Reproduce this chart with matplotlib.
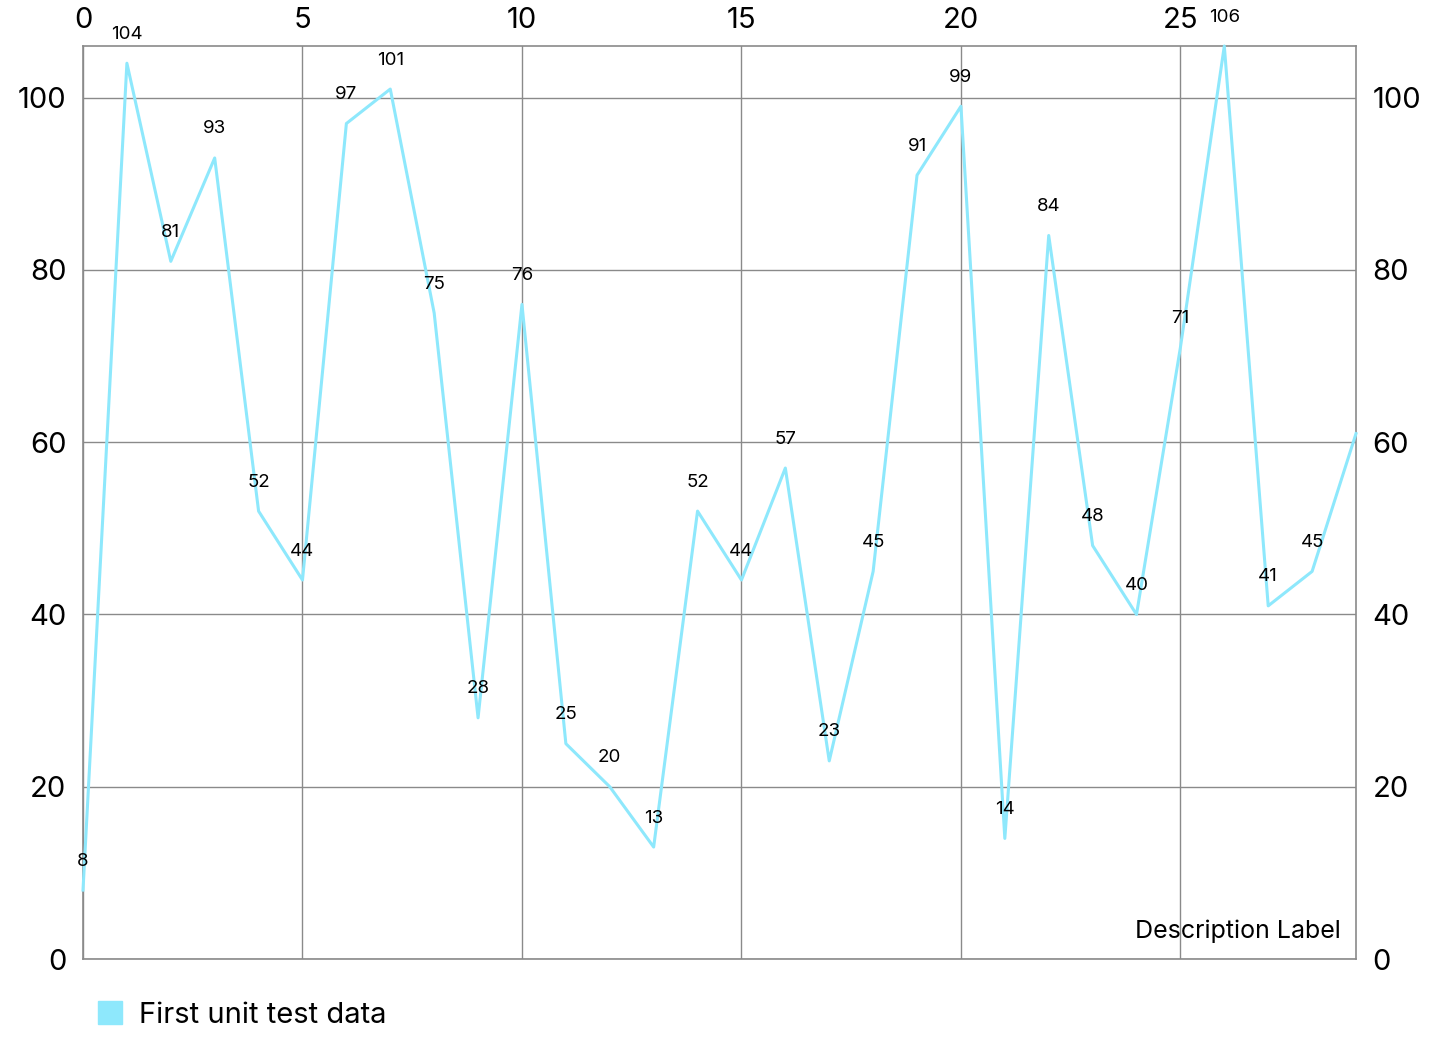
import matplotlib
matplotlib.use("Agg")
import matplotlib.pyplot as plt
from matplotlib.patches import Patch

plt.rcParams['font.family'] = ['Inter', 'DejaVu Sans']

# data
x_vals = list(range(30))
y_vals = [8, 104, 81, 93, 52, 44, 97, 101, 75, 28, 76, 25, 20, 13, 52, 44, 57, 23, 45, 91,
          99, 14, 84, 48, 40, 71, 106, 41, 45, 61]
x_ticks = [0, 5, 10, 15, 20, 25]
y_ticks = [0, 20, 40, 60, 80, 100]
series_name = "First unit test data"
desc = "Description Label"

LINE = "#8EE8FC"
GRID = "#8a8a8a"

fig = plt.figure(figsize=(14.4, 10.5), dpi=100)
ax = fig.add_axes([83/1440, 1-959/1050, (1356-83)/1440, (959-46)/1050])
ax.plot(x_vals, y_vals, color=LINE, lw=2.2, clip_on=False, zorder=3)
ax.set_xlim(0, 29); ax.set_ylim(0, 106)

# value labels (last one falls off the edge)
for xv, yv in zip(x_vals[:-1], y_vals[:-1]):
    ax.annotate(str(yv), (xv, yv), xytext=(0, 29), textcoords="offset pixels",
                ha="center", va="center", fontsize=13.5, color="black",
                annotation_clip=False, zorder=4)

ax.set_xticks(x_ticks); ax.set_yticks(y_ticks)
ax.xaxis.tick_top()
ax.tick_params(axis="x", length=0, pad=9, labelsize=21)
ax.tick_params(axis="y", length=0, pad=12, labelsize=21, right=True, labelright=True)
ax.grid(True, color=GRID, lw=1)
for s in ax.spines.values():
    s.set_color(GRID); s.set_linewidth(1.2)

ax.text(0.988, 0.03, desc, transform=ax.transAxes, ha="right", va="center", fontsize=18)

fig.legend(handles=[Patch(color=LINE, label=series_name)], loc="center left",
           bbox_to_anchor=(72/1440, 1-1015/1050), frameon=False, fontsize=21,
           handlelength=0.8, handleheight=0.8, handletextpad=0.6)

fig.savefig("out.png", dpi=100)
